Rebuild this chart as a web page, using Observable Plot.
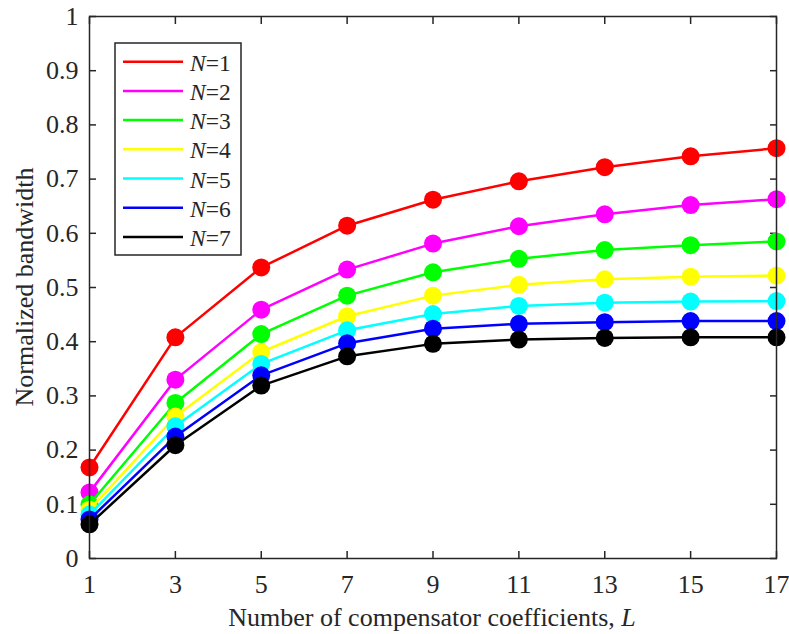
<!DOCTYPE html>
<html>
<head>
<meta charset="utf-8">
<script src="https://cdn.jsdelivr.net/npm/d3@7"></script>
<script src="https://cdn.jsdelivr.net/npm/@observablehq/plot@0.6"></script>
<style>
  html, body { margin: 0; padding: 0; background: #fff; }
  #chart { position: relative; width: 789px; height: 634px; }
</style>
</head>
<body>
<div id="chart"></div>
<script>
const L = [1, 3, 5, 7, 9, 11, 13, 15, 17];
const N1 = [0.168, 0.408, 0.537, 0.614, 0.662, 0.696, 0.722, 0.742, 0.757];
const N2 = [0.122, 0.330, 0.459, 0.533, 0.581, 0.613, 0.635, 0.652, 0.663];
const N3 = [0.100, 0.287, 0.414, 0.485, 0.528, 0.553, 0.569, 0.578, 0.585];
const N4 = [0.090, 0.262, 0.381, 0.447, 0.485, 0.505, 0.515, 0.520, 0.522];
const N5 = [0.081, 0.244, 0.359, 0.421, 0.451, 0.466, 0.472, 0.474, 0.475];
const N6 = [0.072, 0.225, 0.338, 0.397, 0.424, 0.433, 0.436, 0.438, 0.438];
const N7 = [0.063, 0.209, 0.319, 0.373, 0.396, 0.404, 0.407, 0.408, 0.408];
const seriesNames = ["1", "2", "3", "4", "5", "6", "7"];
const seriesValues = [N1, N2, N3, N4, N5, N6, N7];
const colors = ["#ff0000", "#ff00ff", "#00ff00", "#ffff00", "#00ffff", "#0000ff", "#000000"];
const yTicks = [0, 0.1, 0.2, 0.3, 0.4, 0.5, 0.6, 0.7, 0.8, 0.9, 1];
const xLabel = "Number of compensator coefficients, ";
const xLabelVar = "L";
const yLabel = "Normalized bandwidth";

const rows = [];
seriesNames.forEach((n, i) => {
  L.forEach((l, j) => rows.push({ N: n, L: l, v: seriesValues[i][j] }));
});

const axisColor = "#262626";
const font = "Liberation Serif";

const seriesMarks = [];
seriesNames.forEach((n, i) => {
  const d = rows.filter(r => r.N === n);
  seriesMarks.push(Plot.line(d, { x: "L", y: "v", stroke: colors[i], strokeWidth: 2.5 }));
  seriesMarks.push(Plot.dot(d, { x: "L", y: "v", fill: colors[i], r: 9 }));
});

const plot = Plot.plot({
  width: 789,
  height: 634,
  marginLeft: 89,
  marginRight: 13,
  marginTop: 16,
  marginBottom: 76,
  style: { fontFamily: font, fontSize: "26px", background: "#fff", overflow: "visible" },
  x: { domain: [1, 17] },
  y: { domain: [0, 1] },
  marks: [
    Plot.axisX({ anchor: "bottom", ticks: L, tickSize: -7, tickPadding: 23.5, tickFormat: d => String(d), label: null, stroke: axisColor, strokeWidth: 1.5, fill: axisColor, fontSize: 26 }),
    Plot.axisX({ anchor: "top", ticks: L, tickSize: -7, tickFormat: () => "", label: null, stroke: axisColor, strokeWidth: 1.5 }),
    Plot.axisY({ anchor: "left", ticks: yTicks, tickSize: -7, tickPadding: 18, tickFormat: d => String(+d.toFixed(1)), label: null, stroke: axisColor, strokeWidth: 1.5, fill: axisColor, fontSize: 26 }),
    Plot.axisY({ anchor: "right", ticks: yTicks, tickSize: -7, tickFormat: () => "", label: null, stroke: axisColor, strokeWidth: 1.5 }),
    ...seriesMarks,
    Plot.frame({ stroke: axisColor, strokeWidth: 1.5 })
  ]
});

document.getElementById("chart").appendChild(plot);

const svg = d3.select(plot);

// x label
const xl = svg.append("text")
  .attr("x", 432).attr("y", 626)
  .attr("text-anchor", "middle")
  .attr("fill", axisColor)
  .style("font-family", font).style("font-size", "26px");
xl.append("tspan").text(xLabel);
xl.append("tspan").attr("font-style", "italic").text(xLabelVar);

// y label
svg.append("text")
  .attr("transform", "translate(33,287) rotate(-90)")
  .attr("text-anchor", "middle")
  .attr("fill", axisColor)
  .style("font-family", font).style("font-size", "26px")
  .text(yLabel);

// legend
const lg = svg.append("g");
lg.append("rect")
  .attr("x", 115).attr("y", 43).attr("width", 126).attr("height", 212)
  .attr("fill", "#fff").attr("stroke", axisColor).attr("stroke-width", 1.5);
seriesNames.forEach((n, i) => {
  const yy = 61.7 + i * 29.2;
  lg.append("line")
    .attr("x1", 123).attr("x2", 183).attr("y1", yy).attr("y2", yy)
    .attr("stroke", colors[i]).attr("stroke-width", 2.5);
  const t = lg.append("text")
    .attr("x", 190).attr("y", yy + 9)
    .attr("text-anchor", "start")
    .attr("fill", axisColor)
    .style("font-family", font).style("font-size", "23.5px");
  t.append("tspan").attr("font-style", "italic").text("N");
  t.append("tspan").text("=" + n);
});
</script>
</body>
</html>
